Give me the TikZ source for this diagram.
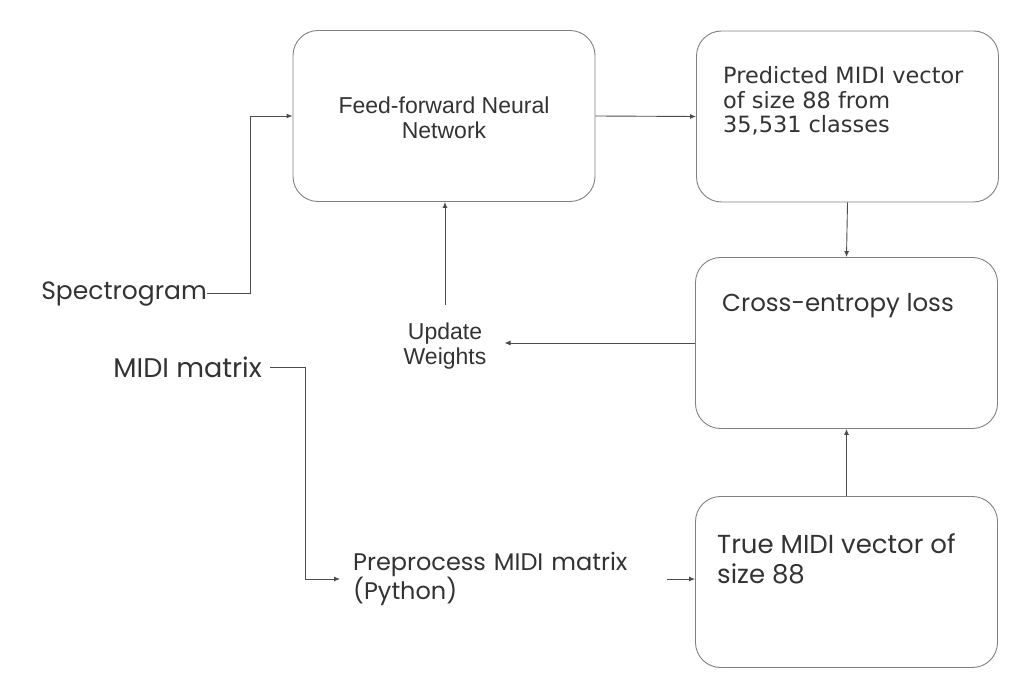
\documentclass[tikz,border=0pt]{standalone}
\usepackage{fontspec}
\setmainfont{Liberation Sans}
\newfontfamily\djv{DejaVu Sans}
\newfontfamily\pop{Poppins}
\usetikzlibrary{arrows.meta,calc}
\begin{document}
\begin{tikzpicture}[x=1pt,y=-1pt,
  box/.style={draw=black!50, line width=0.9pt, rounded corners=25pt, minimum width=302pt, minimum height=171pt, inner sep=0pt},
  conn/.style={draw=black!70, line width=0.9pt},
  arr/.style={conn, -{Latex[length=6pt,width=5pt]}},
  txt/.style={inner sep=0pt, text=black!80},
  arial/.style={font=\fontsize{23}{25}\selectfont},
  dejavu/.style={font=\djv\fontsize{22.4}{24.5}\selectfont},
  geo/.style={font=\pop\fontsize{#1}{1.15*#1}\selectfont}]
\useasboundingbox (0,0) rectangle (1028,692);
% boxes
\node[box] (ff) at (444,116) {};
\node[box] (pred) at (847.5,116.5) {};
\node[box] (ce) at (846.5,343) {};
\node[box] (true) at (846.5,582) {};
% texts
\node[txt, arial, align=center, anchor=north] (fft) at (444,96.5) {Feed-forward Neural\\Network};
\node[txt, dejavu, align=left, anchor=north west] (predt) at (723,66.3) {Predicted MIDI vector\\of size 88 from\\35,531 classes};
\node[txt, font=\pop\fontsize{24.5}{28}\selectfont, anchor=base west] (cet) at (722,312) {Cross-entropy loss};
\node[txt, font=\pop\fontsize{26}{30}\selectfont, align=left, anchor=north west] (truet) at (717,533) {True MIDI vector of\\size 88};
\node[txt, font=\pop\fontsize{25}{28}\selectfont, anchor=base east] (spec) at (207,300) {Spectrogram};
\node[txt, font=\pop\fontsize{27}{30}\selectfont, anchor=base east, inner xsep=8pt] (midi) at (270,378) {MIDI matrix};
\node[txt, arial, align=center, inner sep=18pt] (upd) at (445,346) {Update\\Weights};
\node[txt, font=\pop\fontsize{24}{26}\selectfont, align=left, text width=301pt, inner xsep=13pt, inner ysep=0pt, anchor=west] (prep) at (340,579) {Preprocess MIDI matrix\\(Python)};
% connectors
\coordinate (sbend) at (250,117);
\draw[arr] ($(spec.base east)+(0,-7)$) -| (sbend |- ff.west) -- (ff.west);
\draw[arr] (ff.east) -- (pred.west);
\draw[arr] (pred.south) -- (ce.north);
\draw[arr] (true.north) -- (ce.south);
\draw[arr] (ce.west) -- (ce.west -| upd.east);
\draw[arr] (upd.north) -- (upd.north |- ff.south);
\draw[arr] ($(midi.base east)+(0,-11)$) -| ($(prep.west)+(-35,0)$) -- (prep.west);
\draw[arr] (prep.east) -- (true.west |- prep.east);
\end{tikzpicture}
\end{document}
